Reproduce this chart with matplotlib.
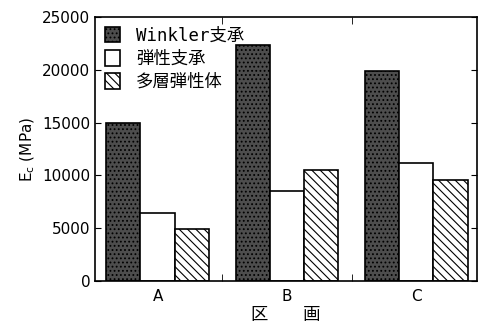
import numpy as np
import matplotlib
matplotlib.use('Agg')
from matplotlib import pyplot as plt

plt.rcParams['font.family'] = ['DejaVu Sans', 'Noto Sans CJK JP']
plt.rcParams['hatch.linewidth'] = 0.8

categories = ['A', 'B', 'C']
series_names = ['Winkler支承', '弾性支承', '多層弾性体']
winkler = [15000, 22400, 19900]
elastic = [6400, 8500, 11200]
multilayer = [4900, 10500, 9600]

fig = plt.figure(figsize=(4.78, 3.29), dpi=100)
ax = fig.add_axes([0.199, 0.146, 0.799, 0.802])

x = np.arange(len(categories))
w = 0.265
ax.bar(x - w, winkler, w, facecolor='#4d4d4d', edgecolor='black', hatch='....', linewidth=1.2, label=series_names[0])
ax.bar(x, elastic, w, facecolor='white', edgecolor='black', linewidth=1.2, label=series_names[1])
ax.bar(x + w, multilayer, w, facecolor='white', edgecolor='black', hatch='\\\\\\\\', linewidth=1.2, label=series_names[2])

ax.set_xlim(-0.483, 2.47)
ax.set_ylim(0, 25000)
ax.set_yticks(np.arange(0, 25001, 5000))
ax.tick_params(axis='y', direction='in', right=True, labelsize=11, length=4)
ax.set_xticks(x)
ax.set_xticklabels(categories, fontsize=11)
ax.tick_params(axis='x', length=0, pad=6)
ax.set_xticks([0.5, 1.5], minor=True)
ax.tick_params(axis='x', which='minor', direction='in', top=True, length=5)

for s in ax.spines.values():
    s.set_linewidth(1.2)

ax.set_ylabel(r'$\mathrm{E_c}$ (MPa)', fontsize=11)
ax.set_xlabel('区　　画', fontsize=12.5, family=['Noto Sans CJK JP'], labelpad=1)

leg = ax.legend(loc='upper left', frameon=False, prop={'family': ['DejaVu Sans Mono', 'Noto Sans CJK JP'], 'size': 12.5},
                handlelength=0.9, handleheight=1.0, handletextpad=0.9, labelspacing=0.3,
                borderaxespad=0.15)

fig.savefig('out.png', dpi=100)
